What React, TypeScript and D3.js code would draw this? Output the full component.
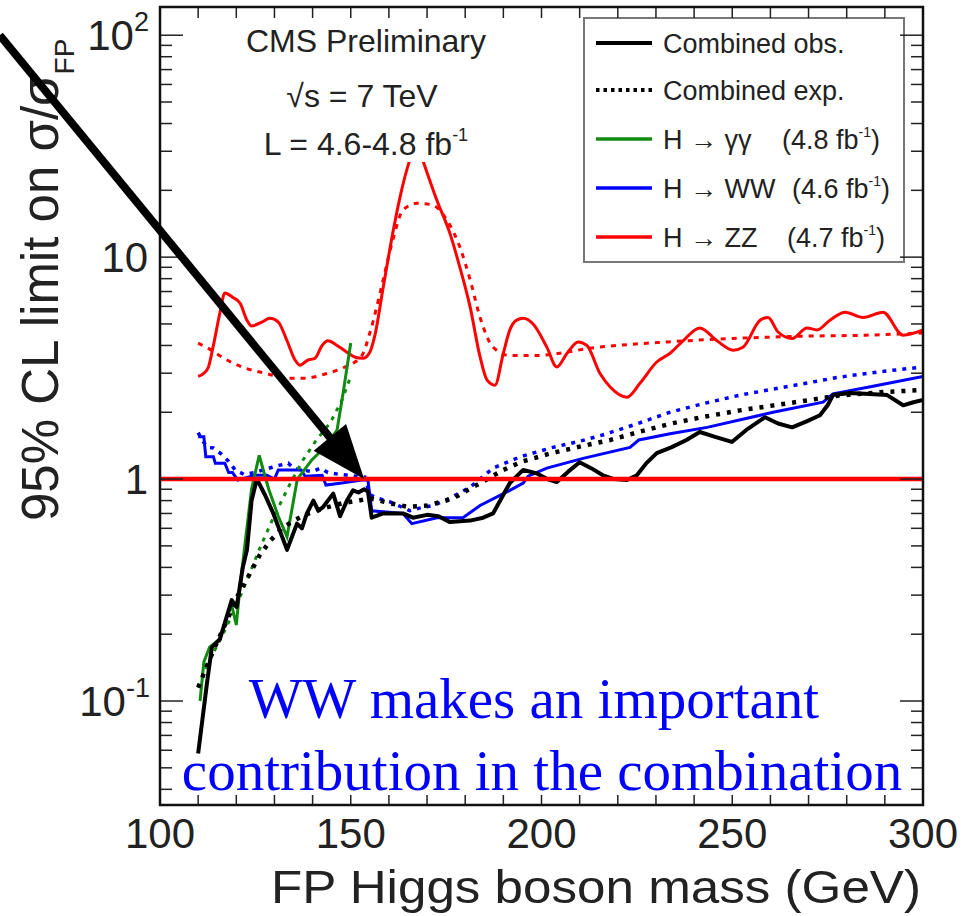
import React from "react";
import * as d3 from "d3";

// ---------- data (mass in GeV, limit on sigma/sigma_FP) ----------
const combObsMass = [110, 112.3, 113.6, 115.7, 117.5, 118.8, 120.1, 121.7, 122.8, 124, 125.4, 127.5, 129.7, 131.5, 133.3, 135.9, 137.2, 138.5, 140.2, 141.5, 142.8, 145.4, 147.2, 149, 150.6, 152, 153.5, 154.5, 155.5, 158.5, 163.7, 166.3, 170, 173, 176, 181.3, 184.7, 187.3, 189.5, 191.7, 195.2, 198.8, 201.5, 204, 207, 210, 213, 216.1, 219, 222.4, 225, 227.5, 230.2, 234, 238, 241.5, 245.5, 249.9, 254, 258.6, 262, 265.7, 269.5, 273, 275, 276.4, 280.9, 286, 290.6, 294.8, 297.5, 300];
const combObsVal = [0.058, 0.12, 0.175, 0.19, 0.24, 0.285, 0.265, 0.4, 0.48, 0.8, 1.0, 0.85, 0.7, 0.58, 0.48, 0.63, 0.6, 0.7, 0.8, 0.72, 0.75, 0.86, 0.68, 0.8, 0.89, 0.87, 0.9, 0.88, 0.67, 0.7, 0.7, 0.67, 0.69, 0.68, 0.64, 0.65, 0.67, 0.7, 0.82, 0.96, 1.1, 1.06, 1.0, 0.97, 1.08, 1.19, 1.12, 1.04, 1.0, 0.99, 1.04, 1.18, 1.31, 1.39, 1.5, 1.63, 1.55, 1.47, 1.68, 1.9, 1.78, 1.71, 1.82, 1.94, 2.15, 2.39, 2.44, 2.42, 2.39, 2.15, 2.22, 2.27];

const combExpMass = [110, 112, 115, 118, 120, 123, 126, 129, 132, 135, 139, 143, 148, 152, 155, 160, 165, 170, 175, 178, 181, 184, 190, 195, 202, 210, 218, 226, 234, 242, 252, 265, 278, 290, 300];
const combExpVal = [0.115, 0.14, 0.185, 0.24, 0.29, 0.36, 0.45, 0.53, 0.6, 0.65, 0.7, 0.74, 0.78, 0.8, 0.82, 0.78, 0.75, 0.76, 0.8, 0.84, 0.9, 0.96, 1.1, 1.2, 1.3, 1.4, 1.5, 1.64, 1.78, 1.9, 2.04, 2.2, 2.38, 2.47, 2.52];

const ggObsMass = [110.5, 111.5, 113, 115.7, 117.5, 118.8, 120, 121, 122.5, 124, 126, 128.5, 131, 133.3, 136, 139.8, 143.2, 146.4, 148, 150];
const ggObsVal = [0.1, 0.15, 0.175, 0.19, 0.24, 0.27, 0.22, 0.33, 0.55, 0.9, 1.28, 0.9, 0.68, 0.55, 1.0, 1.22, 1.39, 1.66, 2.44, 4.1];

const ggExpMass = [110, 112, 114, 116.5, 119.2, 122.8, 126.2, 129.7, 134.2, 137.5, 141, 144.6, 147.7, 150];
const ggExpVal = [0.115, 0.14, 0.165, 0.2, 0.25, 0.35, 0.49, 0.67, 0.96, 1.22, 1.5, 1.79, 2.27, 2.9];

const wwObsMass = [110, 111.5, 112, 114, 114.5, 117, 118, 119, 120.4, 125, 128, 130, 131, 137, 138, 142.5, 143.5, 147.7, 152.9, 154.5, 155.5, 163.7, 166, 172.6, 179.4, 183.9, 191.7, 195.2, 196.5, 201.4, 210.9, 223.2, 225.5, 233.7, 243.4, 260.7, 273.8, 276.4, 286.9, 300];
const wwObsVal = [1.55, 1.55, 1.26, 1.26, 1.18, 1.18, 1.07, 1.07, 0.99, 1.04, 1.04, 1.0, 1.1, 1.1, 1.03, 1.04, 0.94, 0.96, 0.99, 0.99, 0.72, 0.7, 0.63, 0.67, 0.67, 0.76, 0.89, 0.96, 1.03, 1.12, 1.24, 1.39, 1.5, 1.6, 1.71, 2.0, 2.22, 2.42, 2.62, 2.9];

const wwExpMass = [110, 111, 112.5, 114, 116, 118, 119.7, 122, 125, 127, 129.4, 131, 133.6, 135, 137, 140, 142, 144, 147, 149.3, 153.7, 155, 157, 160.3, 165.5, 168, 171.6, 176, 181.3, 187.3, 194.4, 203, 210, 216, 224, 233.7, 243, 252, 265, 278, 289, 300];
const wwExpVal = [1.62, 1.5, 1.39, 1.38, 1.3, 1.2, 1.1, 1.05, 1.07, 1.1, 1.13, 1.15, 1.18, 1.12, 1.1, 1.08, 1.12, 1.07, 1.05, 1.04, 1.02, 0.85, 0.82, 0.79, 0.72, 0.74, 0.76, 0.82, 0.92, 1.12, 1.26, 1.39, 1.48, 1.58, 1.75, 2.0, 2.2, 2.39, 2.62, 2.88, 3.05, 3.2];

const zzObsMass = [110, 111.5, 112.7, 113.9, 115.7, 117, 119, 121, 122.8, 124, 126.7, 128.8, 131, 133.3, 135.4, 136.7, 138.8, 140.6, 142.5, 144, 146.4, 149, 151, 153.2, 155, 156.4, 158.5, 161, 162.9, 165.5, 167.3, 169, 172.6, 176, 178.6, 181.3, 183.9, 185.7, 187.8, 190, 191.7, 193.5, 195.2, 197.8, 201.4, 204, 206.7, 209.6, 211.9, 215.3, 218, 222.4, 225.8, 230.2, 233.7, 237.1, 241.5, 246, 250.2, 252.8, 257.3, 259.4, 262, 265.7, 269.6, 272.2, 275.6, 279.6, 284.3, 289.5, 294.8, 300];
const zzObsVal = [2.9, 3.0, 3.2, 3.93, 5.6, 6.9, 6.6, 6.2, 5.2, 4.9, 5.1, 5.3, 5.1, 4.2, 3.44, 3.26, 3.44, 3.5, 4.0, 4.2, 4.0, 3.73, 3.55, 3.5, 3.73, 4.5, 7.3, 12.8, 18.6, 27.5, 33, 27, 18, 12.8, 9.0, 5.95, 3.55, 2.8, 2.65, 3.69, 4.7, 5.2, 5.3, 5.0, 3.93, 3.2, 3.69, 4.15, 4.0, 3.0, 2.6, 2.34, 2.7, 3.37, 3.69, 4.2, 4.8, 4.2, 3.81, 3.93, 5.2, 5.35, 4.6, 4.3, 4.8, 4.7, 5.2, 5.65, 5.35, 5.65, 4.45, 4.7];

const zzExpMass = [110, 113, 116.2, 121.5, 127.5, 133.6, 138, 144, 148.5, 152.9, 155, 158.5, 161, 163.7, 167.4, 171.3, 175.2, 178.6, 181.3, 183.9, 187.3, 191.7, 197.8, 215, 233, 250, 268, 285, 300];
const zzExpVal = [4.1, 3.85, 3.55, 3.2, 3.0, 2.85, 2.85, 3.0, 3.2, 3.6, 4.55, 7.9, 11.9, 16.3, 17.5, 17.2, 14.7, 11.1, 7.9, 5.35, 3.93, 3.6, 3.6, 3.93, 4.15, 4.3, 4.4, 4.45, 4.55];

const xTicks = [100, 150, 200, 250, 300];
const yMajor = [0.1, 1, 10, 100];
const legendLabels = ["Combined obs.", "Combined exp.", "H \u2192 \u03b3\u03b3", "H \u2192 WW", "H \u2192 ZZ"];
const legendLumi = ["", "", "(4.8 fb", "(4.6 fb", "(4.7 fb"];

const W = 976, H = 916;
const L = 160, R = 923, T = 7, B = 805;
const SANS = "'Liberation Sans', Arial, Helvetica, sans-serif";
const SERIF = "'Liberation Serif', 'Times New Roman', serif";

const x = d3.scaleLinear().domain([100, 300]).range([L, R]);
const y = d3.scaleLog().domain([0.034, 134]).range([B, T]);

const zip = (ms: number[], vs: number[]) => ms.map((m, i) => [m, vs[i]] as [number, number]);
const lin = d3.line<[number, number]>().x(d => x(d[0])).y(d => y(d[1]));
const smooth = d3.line<[number, number]>().x(d => x(d[0])).y(d => y(d[1])).curve(d3.curveMonotoneX);

export default function App() {
  const minorY: number[] = [];
  [0.01, 0.1, 1, 10, 100].forEach(dec => {
    for (let k = 2; k <= 9; k++) {
      const v = dec * k;
      if (v > 0.034 && v < 134) minorY.push(v);
    }
  });
  const minorX: number[] = d3.range(100, 301, 10);

  // arrow (annotation) in data coordinates
  const start: [number, number] = [x(58), y(100)];
  const tip: [number, number] = [x(153.5), y(1)];
  const dx = tip[0] - start[0], dy = tip[1] - start[1];
  const len = Math.hypot(dx, dy);
  const ux = dx / len, uy = dy / len;
  const headL = 54, headW = 21;
  const base: [number, number] = [tip[0] - ux * headL, tip[1] - uy * headL];
  const nx = -uy, ny = ux;
  const head = [
    tip,
    [base[0] + nx * headW, base[1] + ny * headW],
    [base[0] - nx * headW, base[1] - ny * headW],
  ].map(p => p.join(",")).join(" ");

  const legendY = [43, 90, 139, 188, 237];
  const lumiX = [0, 0, 782, 792, 787];
  const green = "#118a11";

  return (
    <div style={{ position: "absolute", left: 0, top: 0 }}>
      <svg width={W} height={H} style={{ display: "block", background: "#fff" }}>
        <defs>
          <clipPath id="plot">
            <rect x={L} y={T} width={R - L} height={B - T} />
          </clipPath>
        </defs>
        <rect x={0} y={0} width={W} height={H} fill="#fff" />

        <g clipPath="url(#plot)" fill="none">
          <path d={smooth(zip(zzExpMass, zzExpVal)) || ""} stroke="#ff0000" strokeWidth={3} strokeDasharray="5 6" />
          <path d={smooth(zip(zzObsMass, zzObsVal)) || ""} stroke="#ff0000" strokeWidth={3} strokeLinejoin="round" />
          <path d={lin(zip(wwExpMass, wwExpVal)) || ""} stroke="#0000ff" strokeWidth={3.5} strokeDasharray="4 6" />
          <path d={lin(zip(wwObsMass, wwObsVal)) || ""} stroke="#0000ff" strokeWidth={3} />
          <path d={lin(zip(ggExpMass, ggExpVal)) || ""} stroke={green} strokeWidth={3} strokeDasharray="4 6" />
          <path d={lin(zip(ggObsMass, ggObsVal)) || ""} stroke={green} strokeWidth={3} />
          <path d={lin(zip(combExpMass, combExpVal)) || ""} stroke="#000" strokeWidth={4.5} strokeDasharray="4 7" />
          <path d={lin(zip(combObsMass, combObsVal)) || ""} stroke="#000" strokeWidth={4} strokeLinejoin="round" />
          <line x1={L} x2={R} y1={y(1)} y2={y(1)} stroke="#ff0000" strokeWidth={4.5} />
        </g>

        {/* white pave behind the CMS label */}
        <rect x={232} y={10} width={268} height={152} fill="#fff" />
        <g fontFamily={SANS} fill="#222" textAnchor="middle">
          <text x={366} y={52} fontSize={32}>CMS Preliminary</text>
          <text x={362} y={107} fontSize={32}>{"\u221as = 7 TeV"}</text>
          <text x={366} y={155} fontSize={32}>
            L = 4.6-4.8 fb<tspan dy={-14} fontSize={18}>-1</tspan>
          </text>
        </g>

        {/* legend */}
        <rect x={584} y={18} width={320} height={244} fill="#fff" stroke="#777" strokeWidth={2} />
        {legendLabels.map((lab, i) => {
          const cy = legendY[i];
          const col = i < 2 ? "#000" : i === 2 ? green : i === 3 ? "#0000ff" : "#ff0000";
          return (
            <g key={lab}>
              <line x1={596} x2={652} y1={cy} y2={cy} stroke={col}
                strokeWidth={i < 2 ? 4 : 3.5}
                strokeDasharray={i === 1 ? "3.5 4" : undefined} />
              <text x={663} y={cy + 10} fontFamily={SANS} fontSize={27} fill="#222">{lab}</text>
              {legendLumi[i] && (
                <text x={lumiX[i]} y={cy + 10} fontFamily={SANS} fontSize={27} fill="#222">
                  {legendLumi[i]}<tspan dy={-12} fontSize={14}>-1</tspan><tspan dy={12}>)</tspan>
                </text>
              )}
            </g>
          );
        })}

        {/* frame & ticks */}
        <g stroke="#222" strokeWidth={1.5}>
          {yMajor.map(v => (
            <g key={"ym" + v}>
              <line x1={L} x2={L + 23} y1={y(v)} y2={y(v)} />
              <line x1={R - 23} x2={R} y1={y(v)} y2={y(v)} />
            </g>
          ))}
          {minorY.map(v => (
            <g key={"yn" + v}>
              <line x1={L} x2={L + 12} y1={y(v)} y2={y(v)} />
              <line x1={R - 12} x2={R} y1={y(v)} y2={y(v)} />
            </g>
          ))}
          {minorX.map(v => (
            <g key={"xn" + v}>
              <line x1={x(v)} x2={x(v)} y1={B} y2={B - 10} />
              <line x1={x(v)} x2={x(v)} y1={T} y2={T + 11} />
            </g>
          ))}
        </g>
        <rect x={L} y={T} width={R - L} height={B - T} fill="none" stroke="#111" strokeWidth={2.5} />

        {/* tick labels */}
        <g fontFamily={SANS} fontSize={42} fill="#222">
          {xTicks.map(v => (
            <text key={"xl" + v} x={x(v)} y={848} textAnchor="middle">{v}</text>
          ))}
          <text x={148} y={y(1) + 15} textAnchor="end">1</text>
          <text x={148} y={y(10) + 15} textAnchor="end">10</text>
          <text x={149} y={y(100) + 15} textAnchor="end">
            10<tspan dy={-19} fontSize={27}>2</tspan>
          </text>
          <text x={150} y={y(0.1) + 15} textAnchor="end">
            10<tspan dy={-19} fontSize={27}>-1</tspan>
          </text>
        </g>

        {/* axis titles */}
        <text x={271} y={903} fontFamily={SANS} fontSize={47} fill="#222"
          textLength={650} lengthAdjust="spacingAndGlyphs">
          FP Higgs boson mass (GeV)
        </text>
        <text transform="translate(58,521) rotate(-90)" fontFamily={SANS} fontSize={51} fill="#222">
          {"95% CL limit on \u03c3/\u03c3"}<tspan dy={16} fontSize={28}>FP</tspan>
        </text>

        {/* annotation arrow */}
        <line x1={start[0]} y1={start[1]} x2={base[0] + ux * 4} y2={base[1] + uy * 4} stroke="#000" strokeWidth={8} />
        <polygon points={head} fill="#000" />

        {/* annotation text */}
        <g fontFamily={SERIF} fontSize={57} fill="#0000ff" textAnchor="middle">
          <text x={534} y={718}>WW makes an important</text>
          <text x={542} y={790}>contribution in the combination</text>
        </g>
      </svg>
    </div>
  );
}
